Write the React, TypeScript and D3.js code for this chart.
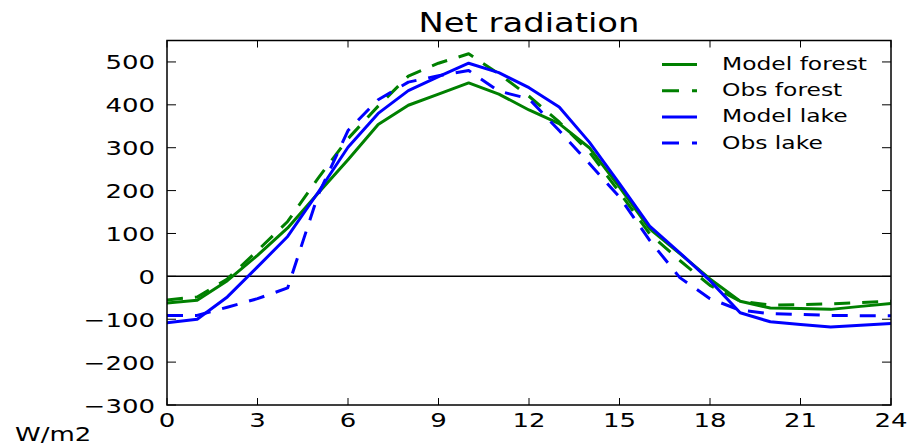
import React from "react";
import * as d3 from "d3";

const hours = d3.range(0, 25);
const modelForest = [-62, -56, -10, 49, 113, 193, 272, 354, 399, 425, 451, 425, 388, 356, 300, 208, 111, 53, -6, -58, -74, -75, -77, -70, -63];
const obsForest = [-55, -48, -6, 60, 128, 228, 321, 397, 467, 497, 519, 472, 420, 360, 290, 196, 99, 37, -21, -58, -67, -66, -64, -61, -58];
const modelLake = [-108, -100, -48, 22, 93, 195, 301, 380, 433, 466, 497, 475, 440, 395, 313, 216, 117, 55, -10, -85, -106, -112, -118, -114, -110];
const obsLake = [-91, -91, -72, -52, -27, 188, 340, 412, 453, 468, 480, 432, 414, 340, 263, 185, 84, -3, -52, -79, -87, -89, -91, -92, -92];

const xTicks = [0, 3, 6, 9, 12, 15, 18, 21, 24];
const yTicks = [-300, -200, -100, 0, 100, 200, 300, 400, 500];

const seriesNames = ["Model forest", "Obs forest", "Model lake", "Obs lake"];
const seriesColors = ["#008000", "#008000", "#0000ff", "#0000ff"];
const seriesDashed = [false, true, false, true];
const seriesData = [modelForest, obsForest, modelLake, obsLake];

const W = 910;
const H = 444;
const L = 167, R = 891, T = 40.5, B = 405;
const SX = 1.3;
const FONT = "'DejaVu Sans', sans-serif";

function STxt(props: { x: number; y: number; size: number; anchor?: string; children: React.ReactNode }) {
  const { x, y, size, anchor, children } = props;
  return (
    <text
      transform={`translate(${x},${y}) scale(${SX},1)`}
      fontSize={size}
      fontFamily={FONT}
      textAnchor={anchor || "start"}
      fill="#000"
    >
      {children}
    </text>
  );
}

export default function App() {
  const x = d3.scaleLinear().domain([0, 24]).range([L, R]);
  const y = d3.scaleLinear().domain([-300, 550]).range([B, T]);
  const line = d3
    .line<number>()
    .x((_, i) => x(hours[i]))
    .y((d) => y(d));

  const legX0 = 662, legX1 = 697, legTextX = 722, legY0 = 64.5, legDY = 26.2;

  return (
    <svg
      width={W}
      height={H}
      style={{ position: "absolute", left: 0, top: 0, background: "#fff" }}
    >
      <defs>
        <clipPath id="plotclip">
          <rect x={L} y={T} width={R - L} height={B - T} />
        </clipPath>
      </defs>
      <rect x={0} y={0} width={W} height={H} fill="#fff" />
      {/* zero line */}
      <line x1={L} x2={R} y1={y(0)} y2={y(0)} stroke="#000" strokeWidth={1.5} />
      <g clipPath="url(#plotclip)">
        {seriesData.map((d, i) => (
          <path
            key={i}
            d={line(d) || ""}
            fill="none"
            stroke={seriesColors[i]}
            strokeWidth={3}
            strokeLinejoin="round"
            strokeLinecap={seriesDashed[i] ? "butt" : "round"}
            strokeDasharray={seriesDashed[i] ? "16 12" : undefined}
          />
        ))}
      </g>
      {/* frame */}
      <rect x={L} y={T} width={R - L} height={B - T} fill="none" stroke="#000" strokeWidth={1.5} />
      {/* ticks */}
      {xTicks.map((t) => (
        <g key={"xt" + t}>
          <line x1={x(t)} x2={x(t)} y1={B} y2={B - 7} stroke="#000" strokeWidth={1} />
          <line x1={x(t)} x2={x(t)} y1={T} y2={T + 7} stroke="#000" strokeWidth={1} />
          <STxt x={x(t)} y={426.5} size={20} anchor="middle">{String(t)}</STxt>
        </g>
      ))}
      {yTicks.map((t) => (
        <g key={"yt" + t}>
          <line x1={L} x2={L + 9} y1={y(t)} y2={y(t)} stroke="#000" strokeWidth={1} />
          <line x1={R} x2={R - 9} y1={y(t)} y2={y(t)} stroke="#000" strokeWidth={1} />
          <STxt x={155} y={y(t) + 7.5} size={20} anchor="end">
            {t < 0 ? "\u2212" + Math.abs(t) : String(t)}
          </STxt>
        </g>
      ))}
      {/* title */}
      <STxt x={(L + R) / 2} y={32} size={26} anchor="middle">Net radiation</STxt>
      {/* y unit */}
      <STxt x={15} y={441} size={20}>W/m2</STxt>
      {/* legend */}
      {seriesNames.map((n, i) => (
        <g key={"lg" + i}>
          <line
            x1={legX0}
            x2={legX1}
            y1={legY0 + i * legDY}
            y2={legY0 + i * legDY}
            stroke={seriesColors[i]}
            strokeWidth={3}
            strokeDasharray={seriesDashed[i] ? "17 13" : undefined}
          />
          <STxt x={legTextX} y={legY0 + i * legDY + 5.5} size={18}>{n}</STxt>
        </g>
      ))}
    </svg>
  );
}
